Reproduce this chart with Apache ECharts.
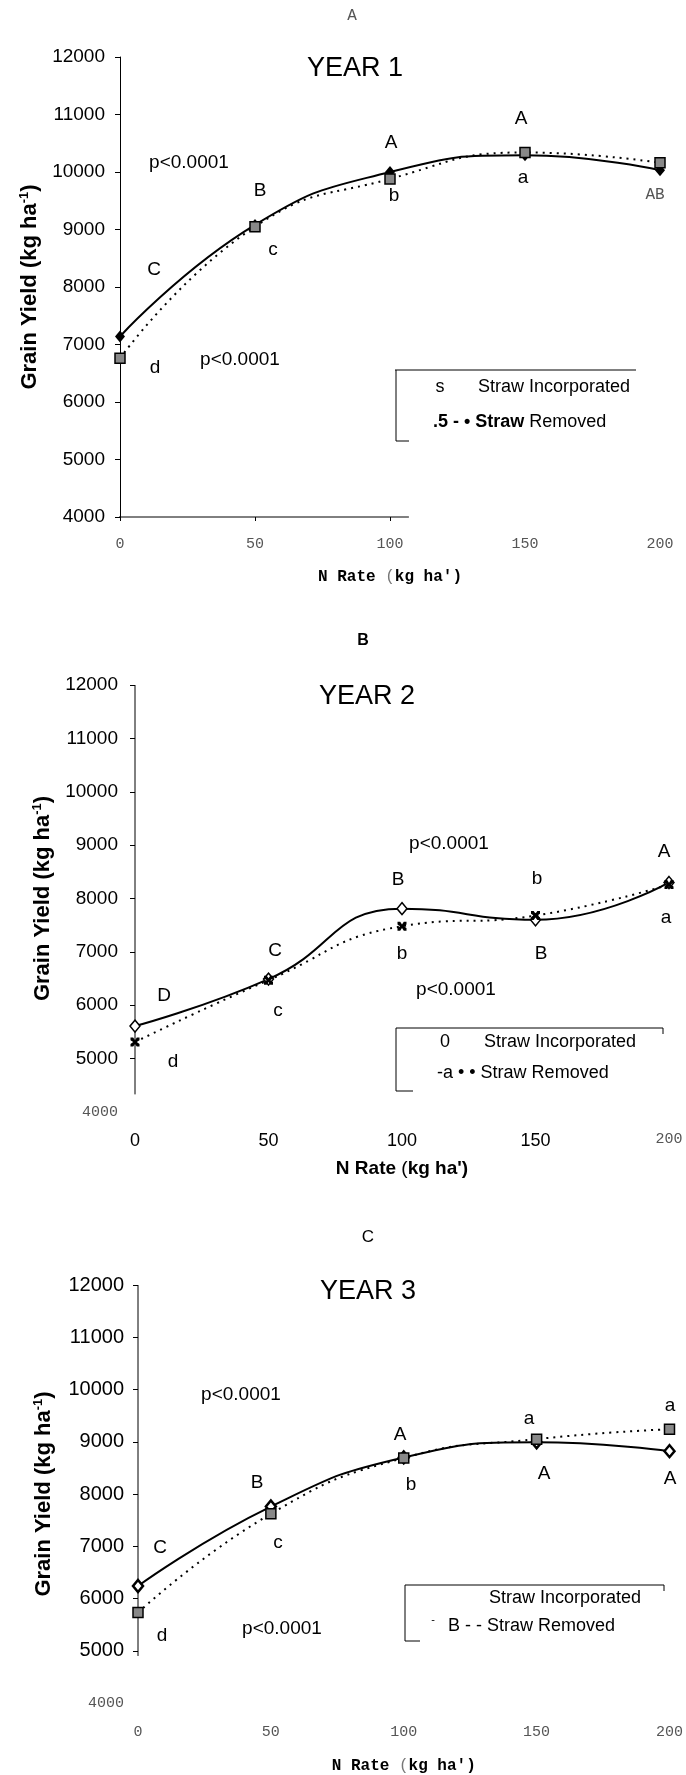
<!DOCTYPE html>
<html>
<head>
<meta charset="utf-8">
<title>Grain yield vs N rate</title>
<script src="https://cdn.jsdelivr.net/npm/echarts@6.0.0/dist/echarts.min.js"></script>
<style>
  html, body { margin: 0; padding: 0; background: #fff; }
  #chart { width: 686px; height: 1775px; }
</style>
</head>
<body>
<div id="chart"></div>
<script>
const SANS = '"Liberation Sans", Arial, sans-serif'
const MONO = '"Liberation Mono", "Courier New", monospace'

// ---- data ----
const nRate = [0, 50, 100, 150, 200]
const yieldTicks = [4000, 5000, 6000, 7000, 8000, 9000, 10000, 11000, 12000]
const year1Incorporated = [7140, 9080, 10000, 10290, 10030]
const year1Removed = [6760, 9050, 9880, 10340, 10160]
const year2Incorporated = [5610, 6490, 7810, 7600, 8300]
const year2Removed = [5310, 6470, 7480, 7680, 8260]
const year3Incorporated = [6240, 7760, 8700, 8990, 8820]
const year3Removed = [5730, 7620, 8690, 9050, 9240]
const yearTitles = ['YEAR 1', 'YEAR 2', 'YEAR 3']

// axis line ends as printed (the scanned axes are not full length)
const xAxisEndA = 107
const yAxisStartB = 4330
const yAxisStartC = 4900

const xMark = 'path://M0,0 L3,0 L5,3 L7,0 L10,0 L10,3 L7,5 L10,7 L10,10 L7,10 L5,7 L3,10 L0,10 L0,7 L3,5 L0,3 Z'

function pairs(values) {
  return nRate.map((n, i) => [n, values[i]])
}

function label(x, y, text, o) {
  o = o || {}
  const align = o.align || 'center'
  return {
    type: 'text', x, y, silent: true,
    style: {
      text,
      fill: o.fill || '#000',
      fontFamily: o.family || SANS,
      fontSize: o.size || 19,
      fontWeight: o.weight || 'normal',
      align, textAlign: align,
      verticalAlign: 'middle', textVerticalAlign: 'middle',
      rich: o.rich
    }
  }
}

function rule(points) {
  return { type: 'polyline', silent: true, shape: { points }, style: { stroke: '#000', lineWidth: 1, fill: 'none' } }
}

const grids = [
  { left: 120, top: 57, width: 540, height: 460 },
  { left: 135, top: 685, width: 534, height: 427 },
  { left: 138, top: 1285, width: 538, height: 420 }
]

const yNameRich = {
  t: { fontFamily: SANS, fontSize: 22, fontWeight: 'bold', color: '#000', lineHeight: 24 },
  sup: { fontFamily: SANS, fontSize: 13, fontWeight: 'bold', color: '#000', verticalAlign: 'top', lineHeight: 24 }
}
const yName = '{t|Grain Yield (kg ha}{sup|-1}{t|)}'

const monoGray = { fontFamily: MONO, fontSize: 15, color: '#555' }
const sansTick = { fontFamily: SANS, fontSize: 19, color: '#000' }

const xAxes = [
  {
    gridIndex: 0, type: 'value', min: 0, max: 200, interval: 50,
    splitLine: { show: false },
    axisLine: { show: false },
    axisTick: { show: true, length: 4, customValues: [0, 50, 100], lineStyle: { color: '#000' } },
    axisLabel: { margin: 20, ...monoGray },
    name: "{b|N Rate }{p|(}{b|kg ha')}", nameLocation: 'middle', nameGap: 52,
    nameTextStyle: { rich: {
      b: { fontFamily: MONO, fontSize: 16, fontWeight: 'bold', color: '#000' },
      p: { fontFamily: MONO, fontSize: 16, color: '#777' }
    } }
  },
  {
    gridIndex: 1, type: 'value', min: 0, max: 200, interval: 50,
    splitLine: { show: false }, axisLine: { show: false }, axisTick: { show: false },
    axisLabel: {
      margin: 20,
      formatter: v => v === 200 ? '{m|200}' : '{s|' + v + '}',
      rich: { m: monoGray, s: { fontFamily: SANS, fontSize: 18, color: '#000' } }
    },
    name: "{b|N Rate }{p|(}{b|kg ha')}", nameLocation: 'middle', nameGap: 47,
    nameTextStyle: { rich: {
      b: { fontFamily: SANS, fontSize: 19, fontWeight: 'bold', color: '#000' },
      p: { fontFamily: SANS, fontSize: 19, color: '#000' }
    } }
  },
  {
    gridIndex: 2, type: 'value', min: 0, max: 200, interval: 50,
    splitLine: { show: false }, axisLine: { show: false }, axisTick: { show: false },
    axisLabel: { margin: 22, ...monoGray },
    name: "{b|N Rate }{p|(}{b|kg ha')}", nameLocation: 'middle', nameGap: 55,
    nameTextStyle: { rich: {
      b: { fontFamily: MONO, fontSize: 16, fontWeight: 'bold', color: '#000' },
      p: { fontFamily: MONO, fontSize: 16, color: '#777' }
    } }
  }
]

const grayFourThousand = {
  formatter: v => v === 4000 ? '{m|4000}' : '{s|' + v + '}',
  rich: { m: monoGray, s: sansTick }
}

const yAxes = [
  {
    gridIndex: 0, type: 'value', min: 4000, max: 12000, interval: 1000,
    splitLine: { show: false },
    axisLine: { show: true, lineStyle: { color: '#000', width: 1 } },
    axisTick: { show: true, length: 5, lineStyle: { color: '#000' } },
    axisLabel: { margin: 15, formatter: v => String(v), ...sansTick },
    name: yName, nameLocation: 'middle', nameGap: 71, nameTextStyle: { rich: yNameRich }
  },
  {
    gridIndex: 1, type: 'value', min: 4000, max: 12000, interval: 1000,
    splitLine: { show: false }, axisLine: { show: false },
    axisTick: { show: true, length: 5, customValues: yieldTicks.slice(1), lineStyle: { color: '#000' } },
    axisLabel: { margin: 17, ...grayFourThousand },
    name: yName, nameLocation: 'middle', nameGap: 78, nameTextStyle: { rich: yNameRich }
  },
  {
    gridIndex: 2, type: 'value', min: 4000, max: 12000, interval: 1000,
    splitLine: { show: false }, axisLine: { show: false },
    axisTick: { show: true, length: 5, customValues: yieldTicks.slice(1), lineStyle: { color: '#000' } },
    axisLabel: { margin: 14, ...grayFourThousand, rich: { m: monoGray, s: { ...sansTick, fontSize: 20 } } },
    name: yName, nameLocation: 'middle', nameGap: 82, nameTextStyle: { rich: yNameRich }
  }
]

function incorporated(i, values, symbol) {
  return {
    name: 'Straw Incorporated', type: 'line', xAxisIndex: i, yAxisIndex: i,
    data: pairs(values), smooth: 0.5, z: 3,
    lineStyle: { color: '#000', width: 2, type: 'solid' },
    ...symbol
  }
}
function removed(i, values, symbol) {
  return {
    name: 'Straw Removed', type: 'line', xAxisIndex: i, yAxisIndex: i,
    data: pairs(values), smooth: 0.5, z: 4,
    lineStyle: { color: '#000', width: 2, type: [2, 5] },
    ...symbol
  }
}
function stub(i, data) {
  return {
    type: 'line', xAxisIndex: i, yAxisIndex: i, data, symbol: 'none', silent: true, clip: false, z: 1,
    lineStyle: { color: '#000', width: 1 }
  }
}

const filledDiamond = { symbol: 'diamond', symbolSize: [10, 12], itemStyle: { color: '#000' } }
const openDiamond = { symbol: 'diamond', symbolSize: [10, 12], itemStyle: { color: '#fff', borderColor: '#000', borderWidth: 1.5 } }
const heavyDiamond = { symbol: 'diamond', symbolSize: [10, 12], itemStyle: { color: '#fff', borderColor: '#000', borderWidth: 2.5 } }
const hatchedSquare = { symbol: 'rect', symbolSize: 10, itemStyle: { color: '#888', borderColor: '#000', borderWidth: 1.5 } }
const crossMark = { symbol: xMark, symbolSize: 9, itemStyle: { color: '#000' } }

const series = [
  stub(0, [[-1, 4000], [xAxisEndA, 4000]]),
  incorporated(0, year1Incorporated, filledDiamond),
  removed(0, year1Removed, hatchedSquare),
  stub(1, [[0, yAxisStartB], [0, 12000]]),
  incorporated(1, year2Incorporated, openDiamond),
  removed(1, year2Removed, crossMark),
  stub(2, [[0, yAxisStartC], [0, 12000]]),
  incorporated(2, year3Incorporated, heavyDiamond),
  removed(2, year3Removed, hatchedSquare)
]

const graphic = [
  // panel headings
  label(352, 16, 'A', { family: MONO, size: 16, fill: '#555' }),
  label(363, 641, 'B', { weight: 'bold', size: 16 }),
  label(368, 1237, 'C', { size: 17 }),
  label(355, 69, yearTitles[0], { size: 27 }),
  label(367, 697, yearTitles[1], { size: 27 }),
  label(368, 1292, yearTitles[2], { size: 27 }),

  // panel A annotations
  label(154, 270, 'C'), label(260, 191, 'B'), label(391, 143, 'A'), label(521, 119, 'A'),
  label(655, 195, 'AB', { family: MONO, size: 16, fill: '#555' }),
  label(155, 368, 'd'), label(273, 250, 'c'), label(394, 196, 'b'), label(523, 178, 'a'),
  label(189, 163, 'p<0.0001'), label(240, 360, 'p<0.0001'),
  rule([[395, 370], [636, 370]]), rule([[396, 370], [396, 441]]), rule([[396, 441], [409, 441]]),
  label(440, 387, 's', { size: 18 }),
  label(478, 387, 'Straw Incorporated', { size: 18, align: 'left' }),
  label(433, 422, '{b|.5 - • Straw} {n|Removed}', { size: 18, align: 'left', rich: {
    b: { fontFamily: SANS, fontSize: 18, fontWeight: 'bold', fill: '#000' },
    n: { fontFamily: SANS, fontSize: 18, fill: '#000' }
  } }),

  // panel B annotations
  label(164, 996, 'D'), label(275, 951, 'C'), label(398, 880, 'B'), label(537, 879, 'b'), label(664, 852, 'A'),
  label(402, 954, 'b'), label(541, 954, 'B'), label(666, 918, 'a'), label(278, 1011, 'c'), label(173, 1062, 'd'),
  label(449, 844, 'p<0.0001'), label(456, 990, 'p<0.0001'),
  rule([[396, 1028], [663, 1028]]), rule([[663, 1028], [663, 1034]]),
  rule([[396, 1028], [396, 1091]]), rule([[396, 1091], [413, 1091]]),
  label(445, 1042, '0', { size: 18 }),
  label(484, 1042, 'Straw Incorporated', { size: 18, align: 'left' }),
  label(437, 1073, '-a • • Straw Removed', { size: 18, align: 'left' }),

  // panel C annotations
  label(160, 1548, 'C'), label(257, 1483, 'B'), label(400, 1435, 'A'), label(529, 1419, 'a'), label(670, 1406, 'a'),
  label(411, 1485, 'b'), label(544, 1474, 'A'), label(670, 1479, 'A'), label(278, 1543, 'c'), label(162, 1636, 'd'),
  label(241, 1395, 'p<0.0001'), label(282, 1629, 'p<0.0001'),
  rule([[405, 1585], [664, 1585]]), rule([[664, 1585], [664, 1591]]),
  rule([[405, 1585], [405, 1641]]), rule([[405, 1641], [420, 1641]]),
  label(489, 1598, 'Straw Incorporated', { size: 18, align: 'left' }),
  label(433, 1620, '-', { size: 11 }),
  label(448, 1626, 'B - - Straw Removed', { size: 18, align: 'left' })
]

const chart = echarts.init(document.getElementById('chart'), null, { renderer: 'canvas' })
chart.setOption({
  backgroundColor: '#fff',
  animation: false,
  grid: grids,
  xAxis: xAxes,
  yAxis: yAxes,
  series,
  graphic
})
</script>
</body>
</html>
